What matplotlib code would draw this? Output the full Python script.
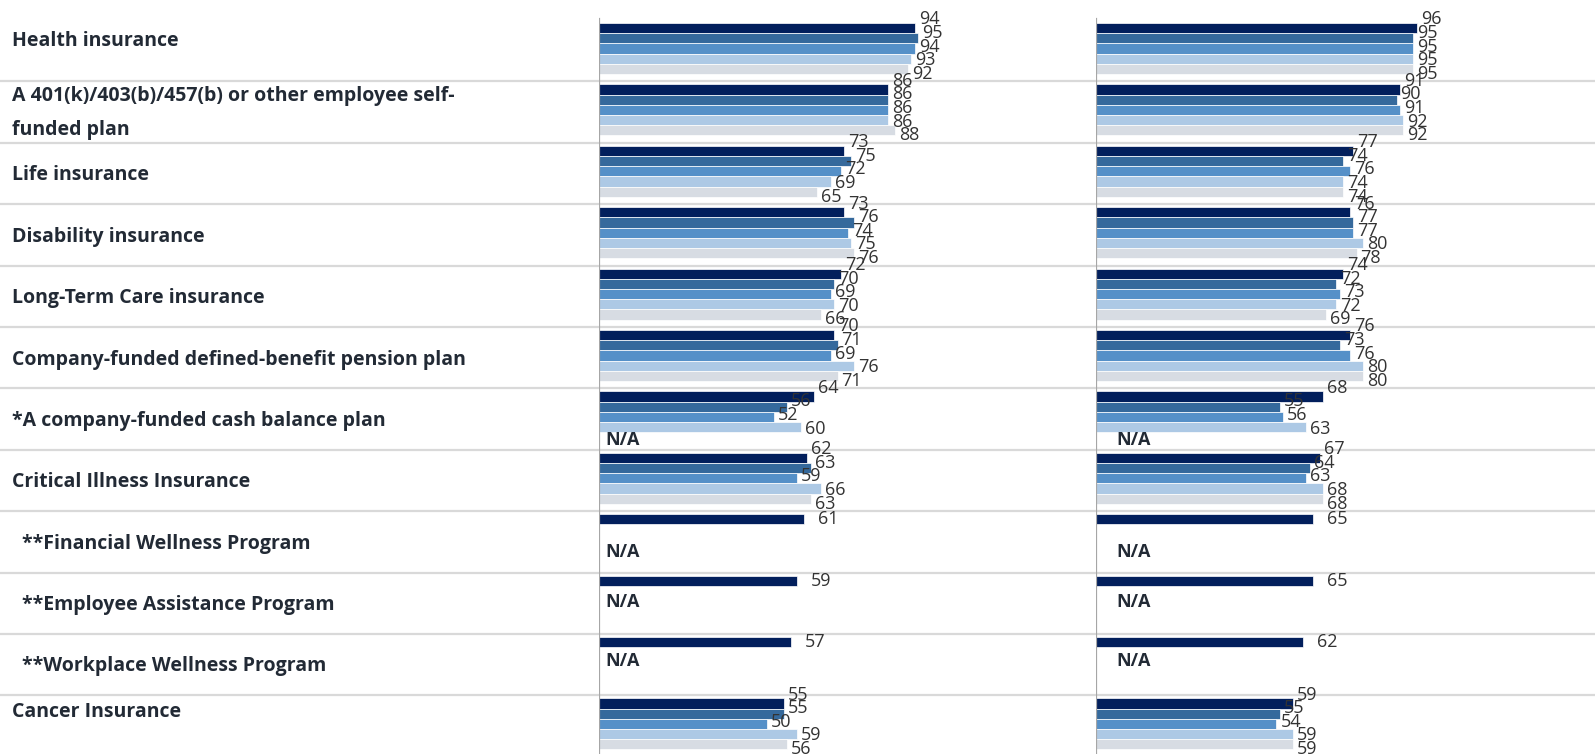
import matplotlib.pyplot as plt

plt.rcParams['font.family'] = ['Open Sans', 'DejaVu Sans']

categories = [
    "Health insurance",
    "A 401(k)/403(b)/457(b) or other employee self-\nfunded plan",
    "Life insurance",
    "Disability insurance",
    "Long-Term Care insurance",
    "Company-funded defined-benefit pension plan",
    "*A company-funded cash balance plan",
    "Critical Illness Insurance",
    "**Financial Wellness Program",
    "**Employee Assistance Program",
    "**Workplace Wellness Program",
    "Cancer Insurance",
]

# left panel, five series (None = N/A)
left_s1 = [94, 86, 73, 73, 72, 70, 64, 62, 61, 59, 57, 55]
left_s2 = [95, 86, 75, 76, 70, 71, 56, 63, None, None, None, 55]
left_s3 = [94, 86, 72, 74, 69, 69, 52, 59, None, None, None, 50]
left_s4 = [93, 86, 69, 75, 70, 76, 60, 66, None, None, None, 59]
left_s5 = [92, 88, 65, 76, 66, 71, None, 63, None, None, None, 56]

# right panel
right_s1 = [96, 91, 77, 76, 74, 76, 68, 67, 65, 65, 62, 59]
right_s2 = [95, 90, 74, 77, 72, 73, 55, 64, None, None, None, 55]
right_s3 = [95, 91, 76, 77, 73, 76, 56, 63, None, None, None, 54]
right_s4 = [95, 92, 74, 80, 72, 80, 63, 68, None, None, None, 59]
right_s5 = [95, 92, 74, 78, 69, 80, None, 68, None, None, None, 59]

colors = ['#021f5c', '#35699c', '#5590c8', '#adc9e5', '#d7dce3']

W, H = 1595, 754
ROW = 61.4          # pixels per category row
CENTER0 = 48.5      # pixel centre of the first group
BAR_H = 10.2 / ROW  # bar height in row units
ylim = ((H - CENTER0) / ROW, -CENTER0 / ROW)

# where the N/A marks sit inside a row (pixels below group centre)
na_shift = {6: 23, 8: 12, 9: 1, 10: -1}
label_shift = {0: -8, 1: 3, 11: -12}

fig = plt.figure(figsize=(W / 100, H / 100), dpi=100)

bg = fig.add_axes([0, 0, 1, 1])
bg.set_xlim(0, W)
bg.set_ylim(*ylim)
bg.axis('off')
for i in range(1, len(categories)):
    bg.axhline(i - 0.464, color='#d9d9d9', lw=1.6)
for i, cat in enumerate(categories):
    x = 22 if cat.startswith('**') else 12
    dy = label_shift.get(i, 4) / ROW
    bg.text(x, i + dy, cat, fontsize=14, fontweight='bold', color='#222a35',
            va='center', ha='left', linespacing=1.95)


def draw_panel(left_px, width_px, series, na_dx):
    ax = fig.add_axes([left_px / W, 0, width_px / W, 1])
    ax.set_facecolor('none')
    ax.set_xlim(0, 100)
    ax.set_ylim(*ylim)
    for sp in ax.spines.values():
        sp.set_visible(False)
    ax.set_xticks([])
    ax.set_yticks([])
    ax.axvline(0, ymin=0, ymax=1 - 19 / H, color='#a6a6a6', lw=1.6)
    for i in range(len(categories)):
        single = all(s[i] is None for s in series[1:])
        for j, s in enumerate(series):
            v = s[i]
            if v is None:
                continue
            y = i + (j - 2) * BAR_H
            ax.barh(y, v, height=BAR_H, color=colors[j], edgecolor='white', lw=0.5)
            if single:
                off = (14, 0)
            else:
                off = (4, -((j - 2) * 3.4 - 2))
            ax.annotate(str(v), (v, y), textcoords='offset pixels', xytext=off,
                        ha='left', va='center', fontsize=13, color='#333333')
        if i in na_shift:
            ax.text(na_dx / (width_px / 100), i + na_shift[i] / ROW, 'N/A',
                    fontsize=13, fontweight='bold', color='#222a35',
                    ha='left', va='center')
    return ax


draw_panel(599, 336, [left_s1, left_s2, left_s3, left_s4, left_s5], 6)
draw_panel(1096, 334, [right_s1, right_s2, right_s3, right_s4, right_s5], 20)

fig.savefig('out.png', dpi=100)
